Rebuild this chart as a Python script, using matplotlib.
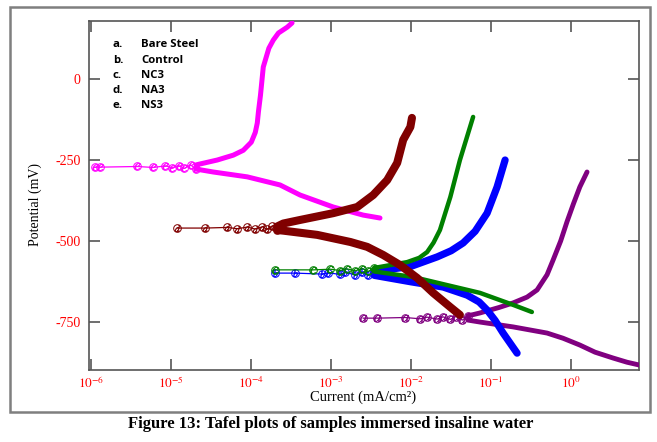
import numpy as np
import matplotlib
matplotlib.use("Agg")
import matplotlib.pyplot as plt
from matplotlib.patches import Rectangle

plt.rcParams['axes.unicode_minus'] = False
plt.rcParams['mathtext.fontset'] = 'stix'
plt.rcParams['font.family'] = ['Liberation Serif', 'DejaVu Serif']

# ---------------- data (log10 of current in mA/cm2, potential in mV) ----------------
legend_letters = ['a.', 'b.', 'c.', 'd.', 'e.']
legend_names = ['Bare Steel', 'Control', 'NC3', 'NA3', 'NS3']
marker_letters = ['a', 'b', 'c', 'd', 'e']
colors = ['#800080', '#0000FF', '#008000', '#800000', '#FF00FF']

# a. Bare Steel (purple)
a_mid_logI = [-2.6, -2.425, -2.075, -1.89, -1.8, -1.675, -1.6, -1.51, -1.44, -1.36, -1.29]
a_mid_E = [-738, -738, -736, -740, -735, -741, -734, -742, -733, -744, -731]
a_an_logI = [-1.29, -1.14, -0.9, -0.725, -0.55, -0.425, -0.3, -0.225, -0.13, -0.05, 0.03, 0.11, 0.2]
a_an_E = [-731, -722, -705, -691, -673, -651, -604, -559, -500, -440, -385, -333, -287]
a_cat_logI = [-1.29, -1.14, -0.725, -0.3, -0.1, 0.11, 0.3, 0.525, 0.7, 0.86]
a_cat_E = [-744, -750, -765, -784, -800, -821, -843, -861, -874, -883]

# b. Control (blue)
b_mid_logI = [-3.7, -3.45, -3.11, -3.04, -2.89, -2.825, -2.7, -2.61, -2.54, -2.46]
b_mid_E = [-599, -599, -602, -598, -603, -597, -604, -596, -606, -594]
b_an_logI = [-2.46, -2.0, -1.675, -1.5, -1.35, -1.2, -1.05, -0.925, -0.825]
b_an_E = [-594, -578, -549, -530, -506, -470, -414, -333, -250]
b_cat_logI = [-2.46, -2.0, -1.6, -1.3, -1.15, -1.05, -0.95, -0.85, -0.675]
b_cat_E = [-606, -626, -642, -667, -688, -713, -745, -784, -846]

# c. NC3 (green)
c_mid_logI = [-3.7, -3.225, -3.01, -2.89, -2.8, -2.7, -2.61, -2.54, -2.46]
c_mid_E = [-589, -589, -587, -591, -586, -592, -585, -594, -583]
c_an_logI = [-2.46, -2.05, -1.9, -1.8, -1.72, -1.64, -1.51, -1.39, -1.225]
c_an_E = [-583, -565, -552, -534, -505, -466, -364, -250, -117]
c_cat_logI = [-2.46, -1.975, -1.55, -1.14, -0.725, -0.49]
c_cat_E = [-594, -611, -636, -660, -697, -719]

# d. NA3 (maroon)
d_mid_logI = [-4.925, -4.575, -4.3, -4.175, -4.05, -3.95, -3.86, -3.8, -3.74, -3.675]
d_mid_E = [-460, -460, -458, -462, -457, -463, -456, -464, -455, -466]
d_an_logI = [-3.675, -3.6, -3.39, -2.975, -2.675, -2.475, -2.3, -2.175, -2.1, -2.01, -1.99]
d_an_E = [-455, -446, -435, -414, -395, -358, -312, -259, -188, -148, -120]
d_cat_logI = [-3.675, -3.6, -3.175, -2.76, -2.55, -2.35, -2.14, -1.925, -1.725, -1.51, -1.39]
d_cat_E = [-466, -468, -481, -503, -518, -543, -574, -614, -660, -704, -728]

# e. NS3 (magenta)
e_mid_logI = [-5.95, -5.89, -5.425, -5.225, -5.075, -4.99, -4.91, -4.84, -4.76, -4.69]
e_mid_E = [-272, -272, -270, -273, -268, -274, -267, -276, -265, -278]
e_an_logI = [-4.69, -4.425, -4.225, -4.1, -4.0, -3.95, -3.925, -3.91, -3.885, -3.85, -3.78,
             -3.725, -3.66, -3.55, -3.49]
e_an_E = [-265, -250, -235, -220, -195, -165, -136, -100, -50, 37, 95, 120, 142, 160, 173]
e_cat_logI = [-4.69, -4.475, -4.05, -3.64, -3.39, -2.975, -2.6, -2.39]
e_cat_E = [-278, -287, -302, -327, -358, -395, -420, -429]

x_ticks = [1e-6, 1e-5, 1e-4, 1e-3, 1e-2, 1e-1, 1e0]
x_ticklabels = [r'$10^{-6}$', r'$10^{-5}$', r'$10^{-4}$', r'$10^{-3}$',
                r'$10^{-2}$', r'$10^{-1}$', r'$10^{0}$']
y_ticks = [0, -250, -500, -750]
y_ticklabels = ['0', '-250', '-500', '-750']

series = {
    'a': (a_mid_logI, a_mid_E, a_an_logI, a_an_E, a_cat_logI, a_cat_E, 3.5),
    'b': (b_mid_logI, b_mid_E, b_an_logI, b_an_E, b_cat_logI, b_cat_E, 5.2),
    'c': (c_mid_logI, c_mid_E, c_an_logI, c_an_E, c_cat_logI, c_cat_E, 3.2),
    'e': (e_mid_logI, e_mid_E, e_an_logI, e_an_E, e_cat_logI, e_cat_E, 3.6),
    'd': (d_mid_logI, d_mid_E, d_an_logI, d_an_E, d_cat_logI, d_cat_E, 5.8),
}

# ---------------- figure ----------------
fig = plt.figure(figsize=(6.57, 4.42), dpi=100)
ax = fig.add_axes([89/657, 1-370/442, 550/657, 349/442])

for key, (mI, mE, aI, aE, cI, cE, lw) in series.items():
    idx = marker_letters.index(key)
    col = colors[idx]
    ax.plot(np.power(10.0, aI), aE, color=col, lw=lw, solid_capstyle='round',
            solid_joinstyle='round', zorder=3)
    ax.plot(np.power(10.0, cI), cE, color=col, lw=lw, solid_capstyle='round',
            solid_joinstyle='round', zorder=3)
    ax.plot(np.power(10.0, mI), mE, color=col, lw=0.9, zorder=3)
    ax.plot(np.power(10.0, mI), mE, linestyle='none', marker='o', ms=5.5,
            mfc='none', mec=col, mew=0.7, zorder=3)
    ax.plot(np.power(10.0, mI), mE, linestyle='none', marker='$%s$' % key, ms=5,
            mfc=col, mec=col, mew=0.3, zorder=3)

ax.set_xscale('log')
ax.set_xlim(10**-6.03, 10**0.85)
ax.set_ylim(-898, 179)
ax.set_xticks(x_ticks)
ax.set_xticklabels(x_ticklabels)
ax.set_yticks(y_ticks)
ax.set_yticklabels(y_ticklabels)
ax.minorticks_off()
ax.tick_params(which='major', direction='in', length=8, width=1.2, top=True,
               right=True, color='#555555', labelcolor='red', labelsize=9.5)
ax.tick_params(axis='x', pad=4)
ax.tick_params(axis='y', pad=6, labelsize=10)
for sp in ax.spines.values():
    sp.set_color('#555555')
    sp.set_linewidth(1.2)

ax.set_ylabel('Potential (mV)', fontsize=10)
ax.yaxis.set_label_coords(-0.085, 0.473)
ax.set_xlabel('Current (mA/cm\u00b2)', fontsize=10.5)
ax.xaxis.set_label_coords(0.498, -0.06)

legend_y = [0.934, 0.888, 0.845, 0.802, 0.759]
for let, name, yy in zip(legend_letters, legend_names, legend_y):
    ax.text(0.0436, yy, let, transform=ax.transAxes, fontsize=8.2, fontweight='bold',
            family=['Open Sans', 'DejaVu Sans'], va='center', ha='left')
    ax.text(0.0945, yy, name, transform=ax.transAxes, fontsize=8.2, fontweight='bold',
            family=['Open Sans', 'DejaVu Sans'], va='center', ha='left')

fig.patches.append(Rectangle((10/657, 1-412/442), 640/657, 405/442,
                             transform=fig.transFigure, fill=False,
                             edgecolor='#7f7f7f', linewidth=1.8))

fig.text(0.503, 1-424/442, 'Figure 13: Tafel plots of samples immersed insaline water',
         ha='center', va='center', fontsize=12, fontweight='bold')

fig.savefig('out.png', dpi=100)
